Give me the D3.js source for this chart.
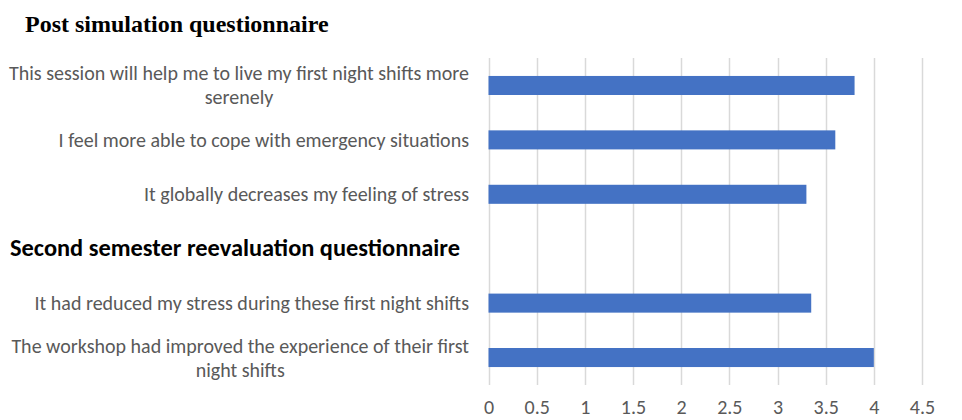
<!DOCTYPE html>
<html>
<head>
<meta charset="utf-8">
<script src="https://cdn.jsdelivr.net/npm/d3@7"></script>
<style>
  body { margin: 0; background: #fff; }
</style>
</head>
<body>
<div id="chart"></div>
<script>
// questions (lines split as in the original picture), empty slot is for the 2nd heading
var categories = [
  ["This session will help me to live my first night shifts more", "serenely"],
  ["I feel more able to cope with emergency situations"],
  ["It globally decreases my feeling of stress"],
  [],
  ["It had reduced my stress during these first night shifts"],
  ["The workshop had improved the experience of their first", "night shifts"]
];
var values = [3.8, 3.6, 3.3, null, 3.35, 4.0];
var tickValues = [0, 0.5, 1, 1.5, 2, 2.5, 3, 3.5, 4, 4.5];
var title = "Post simulation questionnaire";
var subTitle = "Second semester reevaluation questionnaire";

var width = 962;
var height = 420;
var labelFont = "Carlito, Calibri, 'Open Sans', sans-serif";
var grey = "#595959";

var svg = d3.select("#chart").append("svg")
  .attr("width", width)
  .attr("height", height);

var x = d3.scaleLinear()
  .domain([0, 4.5])
  .range([488.5, 922]);

var y = d3.scaleBand()
  .domain(d3.range(categories.length))
  .range([58, 385])
  .paddingInner(0.65)
  .paddingOuter(0.33);

// vertical grid lines
svg.append("g")
  .selectAll("line")
  .data(tickValues)
  .enter()
  .append("line")
  .attr("x1", function(d) { return Math.round(x(d)) + 0.5; })
  .attr("x2", function(d) { return Math.round(x(d)) + 0.5; })
  .attr("y1", 58)
  .attr("y2", 385)
  .attr("stroke", "#d9d9d9")
  .attr("stroke-width", 1.5);

// bottom axis, only the labels
var xAxis = svg.append("g")
  .attr("transform", "translate(0,414)")
  .call(d3.axisBottom(x).tickValues(tickValues).tickSize(0).tickPadding(0)
    .tickFormat(function(d) { return String(d); }));
xAxis.select(".domain").remove();
xAxis.selectAll("text")
  .attr("dy", 0)
  .attr("font-family", labelFont)
  .attr("font-size", 20)
  .attr("fill", grey);

// bars
svg.append("g")
  .selectAll("rect")
  .data(values)
  .enter()
  .filter(function(d) { return d != null; })
  .append("rect")
  .attr("x", x(0))
  .attr("y", function(d) { return y(values.indexOf(d)); })
  .attr("width", function(d) { return x(d) - x(0); })
  .attr("height", y.bandwidth())
  .attr("fill", "#4472c4");

// category labels: block right-aligned, lines centred inside it
var lineH = 24;
var labels = svg.append("g")
  .selectAll("text")
  .data(categories)
  .enter()
  .append("text")
  .attr("font-family", labelFont)
  .attr("font-size", 20)
  .attr("fill", grey)
  .attr("text-anchor", "middle");

labels.each(function(lines, i) {
  var t = d3.select(this);
  var cy = y(i) + y.bandwidth() / 2;
  var top = cy - (lines.length - 1) * lineH / 2;
  lines.forEach(function(s, j) {
    t.append("tspan").attr("y", top + j * lineH).attr("dy", "0.35em").text(s);
  });
  var w = 0;
  t.selectAll("tspan").each(function() { w = Math.max(w, this.getComputedTextLength()); });
  t.selectAll("tspan").attr("x", 469 - w / 2);
});

// headings
svg.append("text")
  .attr("x", 25)
  .attr("y", 32)
  .attr("font-family", "Liberation Serif, Times New Roman, serif")
  .attr("font-weight", "bold")
  .attr("font-size", 24)
  .attr("fill", "#000")
  .text(title);

svg.append("text")
  .attr("x", 10)
  .attr("y", y(3) + y.bandwidth() / 2 + 7)
  .attr("font-family", labelFont)
  .attr("font-weight", "bold")
  .attr("font-size", 24.4)
  .attr("fill", "#000")
  .text(subTitle);
</script>
</body>
</html>
